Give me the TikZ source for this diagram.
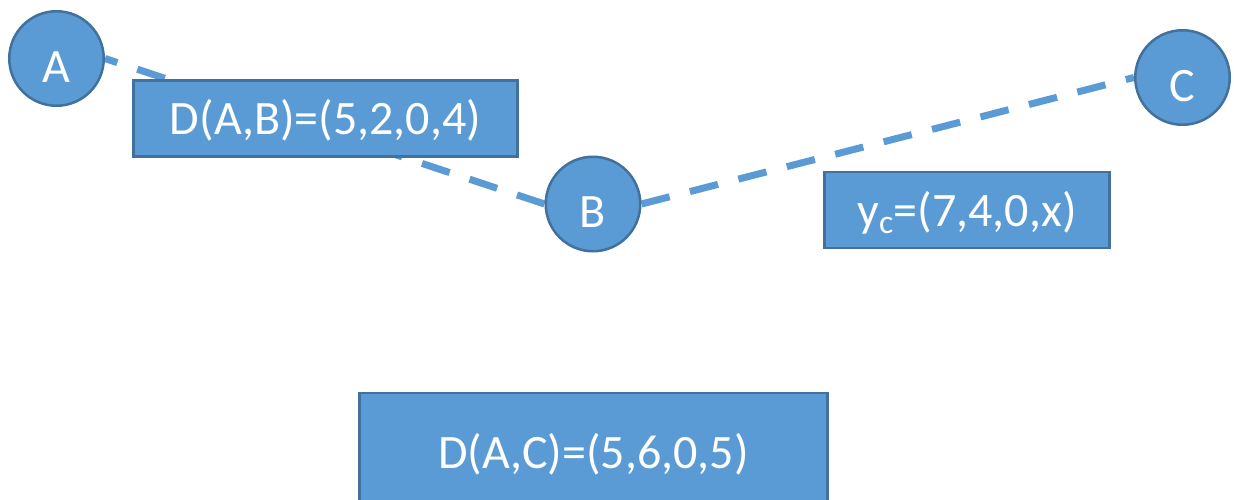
\documentclass[tikz,border=0pt]{standalone}
\usepackage{fontspec}
\setmainfont{Carlito}
\usetikzlibrary{backgrounds}
\definecolor{shapefill}{HTML}{5B9BD5}
\definecolor{shapeedge}{HTML}{41719C}
\begin{document}
\begin{tikzpicture}[x=1pt,y=-1pt,
  vertex/.style={circle, draw=shapeedge, fill=shapefill, line width=2.5pt,
    minimum size=94.5pt, inner sep=0pt, text=white,
    font=\fontsize{48}{56}\selectfont, text height=47pt, text depth=0pt},
  infobox/.style={rectangle, draw=shapeedge, fill=shapefill, line width=2.5pt,
    inner sep=0pt, text=white,
    font=\fontsize{48}{56}\selectfont, text height=32pt, text depth=0pt},
  link/.style={draw=shapefill, line width=7pt, dash pattern=on 29pt off 21pt}]
  \clip (0,0) rectangle (1234,499);

  % points
  \node[vertex] (A) at (56.5,58.5) {A};
  \node[vertex] (B) at (593,204) {B};
  \node[vertex] (C) at (1182.5,77.5) {C};

  % distance boxes
  \node[infobox, minimum width=384pt, minimum height=76pt] (dab) at (325.5,118.5) {D(A,B)=(5,2,0,4)};
  \node[infobox, minimum width=285pt, minimum height=76pt] (yc) at (967,210) {y\textsubscript{c}=(7,4,0,x)};
  \node[infobox, minimum width=468pt, minimum height=118pt] (dac) at (593.5,452) {D(A,C)=(5,6,0,5)};

  % connectors, under the shapes
  \begin{pgfonlayer}{background}
    \fill[white] (0,0) rectangle (1234,499);
    \draw[link, dash phase=16pt] (A.east) -- (B.west);
    \draw[link, dash phase=0pt] (B.east) -- (C.west);
  \end{pgfonlayer}
\end{tikzpicture}
\end{document}
